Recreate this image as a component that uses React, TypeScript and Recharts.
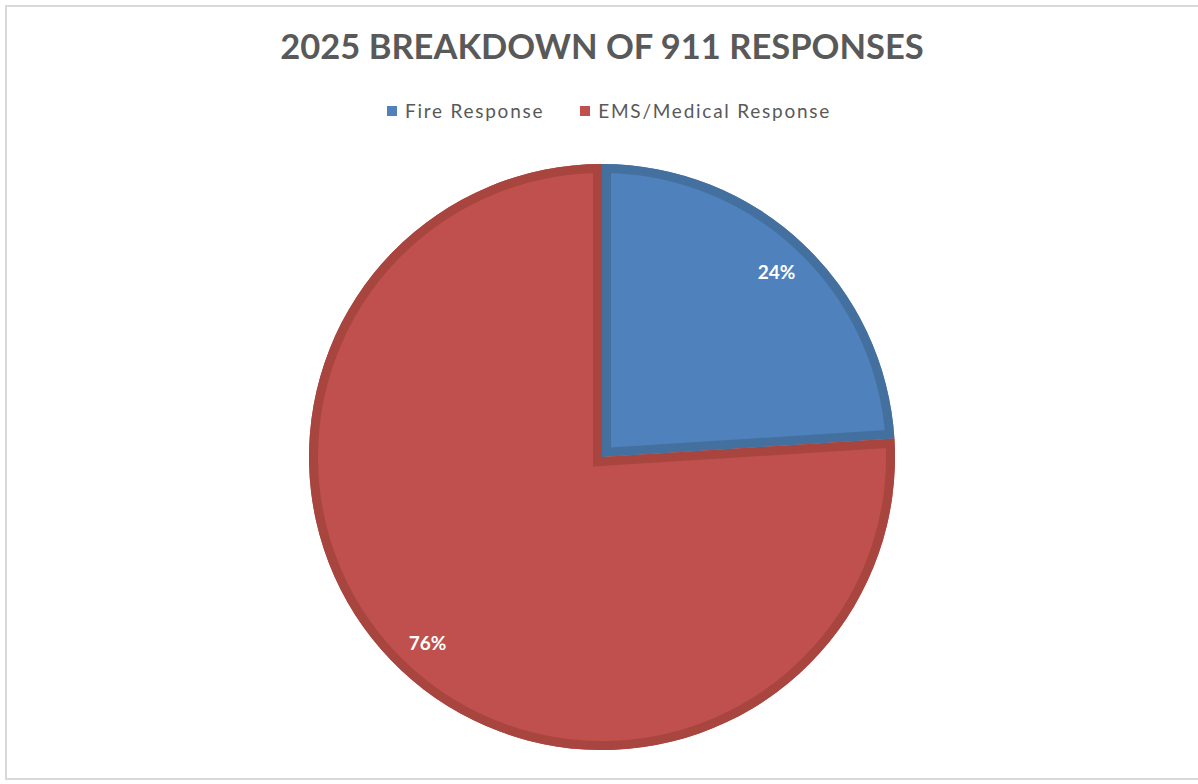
import React from "react";
import { PieChart, Pie, Cell, Sector } from "recharts";

const CATEGORIES = ["Fire Response", "EMS/Medical Response"];
const SHARES = [24, 76];
const FILLS = ["#4F81BD", "#C0504D"];
const EDGES = ["#44709F", "#A8453F"];
const TITLE = "2025 BREAKDOWN OF 911 RESPONSES";

const data = CATEGORIES.map((name, i) => ({ name, value: SHARES[i] }));

const RAD = Math.PI / 180;
const FONT = "Lato, 'Open Sans', sans-serif";

// Excel-style inner bevel: a thick darker stroke clipped to the slice itself
function renderSlice(props: any) {
  const { cx, cy, outerRadius, startAngle, endAngle, midAngle, index, percent } = props;
  const id = `slice-clip-${index}`;
  const r = outerRadius * 0.87;
  const x = cx + r * Math.cos(-midAngle * RAD);
  const y = cy + r * Math.sin(-midAngle * RAD);
  return (
    <g key={id}>
      <defs>
        <clipPath id={id}>
          <Sector cx={cx} cy={cy} innerRadius={0} outerRadius={outerRadius} startAngle={startAngle} endAngle={endAngle} />
        </clipPath>
      </defs>
      <g clipPath={`url(#${id})`}>
        <Sector
          cx={cx} cy={cy} innerRadius={0} outerRadius={outerRadius}
          startAngle={startAngle} endAngle={endAngle}
          fill="none" stroke={EDGES[index]} strokeWidth={18}
        />
      </g>
      <text x={x} y={y} fill="#ffffff" textAnchor="middle" dominantBaseline="central"
        style={{ fontFamily: FONT, fontSize: 19, fontWeight: 700 }}>
        {`${Math.round(percent * 100)}%`}
      </text>
    </g>
  );
}

export default function App() {
  return (
    <div style={{ position: "absolute", left: 0, top: 0, width: 1198, height: 784, background: "#fff", overflow: "hidden" }}>
      <div style={{ position: "absolute", left: 5, top: 5, width: 1200, height: 771, border: "2px solid #d9d9d9" }} />
      <div style={{ position: "absolute", left: 0, top: 25, width: 1204, textAlign: "center", fontFamily: FONT, fontWeight: 700, fontSize: 34.5, color: "#595959" }}>
        {TITLE}
      </div>
      <div style={{
        position: "absolute", left: 0, top: 99, width: 1218, display: "flex", justifyContent: "center", gap: 36,
        fontFamily: FONT, fontSize: 19, letterSpacing: 1.75, color: "#595959",
      }}>
        {CATEGORIES.map((name, i) => (
          <div key={name} style={{ display: "flex", alignItems: "center", gap: 8 }}>
            <span style={{ width: 10, height: 10, background: FILLS[i], display: "inline-block" }} />
            <span>{name}</span>
          </div>
        ))}
      </div>
      <div style={{ position: "absolute", left: 0, top: 0 }}>
        <PieChart width={1198} height={784} margin={{ top: 0, right: 0, bottom: 0, left: 0 }}>
          <Pie
            data={data} dataKey="value" nameKey="name"
            cx={602} cy={457} outerRadius={293}
            startAngle={90} endAngle={-270}
            stroke="none" isAnimationActive={false}
            labelLine={false} label={renderSlice}
          >
            {data.map((d, i) => (<Cell key={d.name} fill={FILLS[i]} />))}
          </Pie>
        </PieChart>
      </div>
    </div>
  );
}
